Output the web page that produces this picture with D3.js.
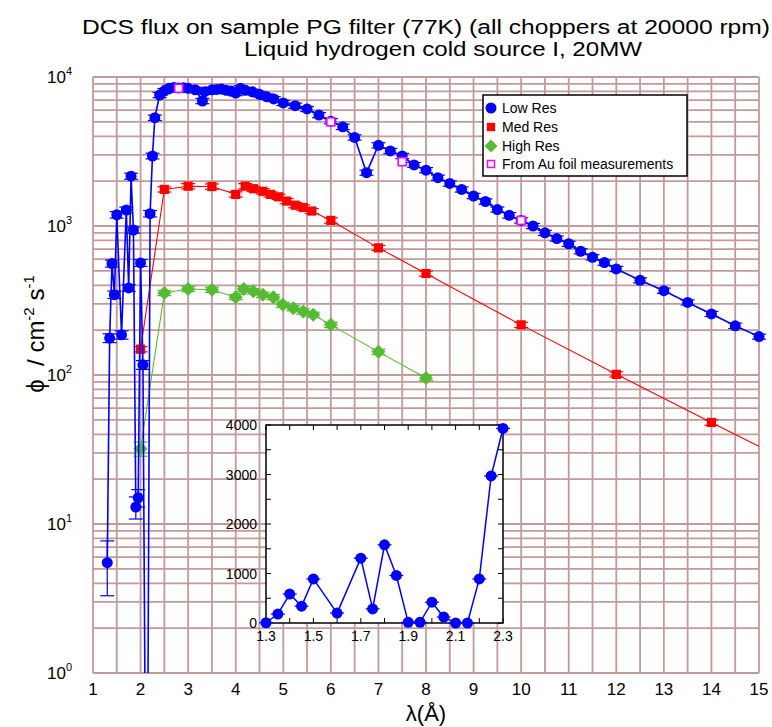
<!DOCTYPE html>
<html>
<head>
<meta charset="utf-8">
<title>DCS flux</title>
<script src="https://cdn.jsdelivr.net/npm/d3@7"></script>
<style>
  body { margin: 0; background: #fff; }
  text { font-family: 'Liberation Sans Narrow', 'Liberation Sans', Arial, sans-serif; fill: #000; }
</style>
</head>
<body>
<svg id="chart" width="772" height="727"></svg>
<script>
// ---- data ----
var lowLambda = [1.3, 1.35, 1.4, 1.45, 1.5, 1.6, 1.7, 1.75, 1.8, 1.85, 1.9, 1.95, 2.0, 2.05, 2.1, 2.15, 2.2, 2.25, 2.3,
  2.4, 2.5, 2.6, 2.7, 2.8, 2.9, 3.0, 3.15, 3.3, 3.35, 3.5, 3.6, 3.7, 3.8, 3.9, 4.0, 4.1, 4.2, 4.35, 4.5, 4.65, 4.8,
  5.0, 5.25, 5.5, 5.75, 6.0, 6.25, 6.5, 6.75, 7.0, 7.25, 7.5, 7.75, 8.0, 8.25, 8.5, 8.75, 9.0, 9.25, 9.5, 9.75,
  10.0, 10.25, 10.5, 10.75, 11.0, 11.25, 11.5, 11.75, 12.0, 12.5, 13.0, 13.5, 14.0, 14.5, 15.0];
var lowFlux = [5.5, 177, 560, 346, 1190, 186, 1280, 384, 2160, 940, 13, 15, 565, 117, 0.3, 0.3, 1210, 2950, 5330,
  7570, 8050, 8400, 8500, 8450, 8470, 8400, 8200, 6900, 7970, 8200, 8250, 8300, 8150, 8050, 7800, 8400, 8150, 7950, 7650, 7380, 7120,
  6700, 6420, 6100, 5550, 5050, 4630, 3930, 2280, 3480, 3190, 2950, 2570, 2370, 2110, 1930, 1760, 1590, 1460, 1290, 1180,
  1090, 1000, 900, 824, 760, 677, 617, 568, 515, 432, 368, 307, 257, 214, 181];
var lowErr = [2.2, 12, 30, 20, 60, 12, 60, 20, 100, 45, 2.2, 2, 30, 8, 0, 0, 60, 130, 220,
  300, 320, 330, 340, 340, 340, 330, 330, 280, 320, 330, 330, 330, 330, 320, 310, 330, 330, 320, 300, 300, 280,
  270, 260, 240, 220, 200, 190, 160, 90, 140, 130, 120, 100, 95, 85, 80, 70, 65, 60, 50, 50,
  45, 40, 36, 33, 30, 27, 25, 23, 21, 17, 15, 12, 10, 9, 7];

var medLambda = [2.0, 2.5, 3.0, 3.5, 4.0, 4.2, 4.37, 4.57, 4.73, 4.9, 5.07, 5.25, 5.42, 5.6, 6.0, 7.0, 8.0, 10.0, 12.0, 14.0, 16.0];
var medFlux = [149, 1760, 1850, 1840, 1630, 1850, 1780, 1710, 1630, 1570, 1470, 1380, 1330, 1260, 1090, 713, 480, 217, 101, 48, 23];
var medErr = [6, 70, 75, 75, 65, 75, 70, 70, 65, 65, 60, 55, 55, 50, 45, 28, 19, 9, 4, 2, 1];

var highLambda = [2.0, 2.5, 3.0, 3.5, 4.0, 4.17, 4.37, 4.57, 4.79, 4.99, 5.21, 5.42, 5.63, 6.0, 7.0, 8.0];
var highFlux = [32, 355, 378, 373, 333, 378, 365, 345, 333, 296, 281, 267, 254, 217, 143, 95.5];
var highErr = [3.5, 14, 15, 15, 13, 15, 15, 14, 13, 12, 11, 11, 10, 9, 6, 4];

var auLambda = [2.8, 6.0, 7.5, 10.0];
var auFlux = [8400, 5000, 2700, 1090];

// inset (linear zoom of the short wavelength part)
var insetLambda = [1.3, 1.35, 1.4, 1.45, 1.5, 1.6, 1.7, 1.75, 1.8, 1.85, 1.9, 1.95, 2.0, 2.05, 2.1, 2.15, 2.2, 2.25, 2.3];
var insetFlux = [5, 180, 585, 340, 890, 200, 1310, 285, 1580, 960, 13, 15, 420, 120, 0, 0, 890, 2970, 3930];

var xTicks = d3.range(1, 16);
var yDecades = [1, 10, 100, 1000, 10000];
var insetXTicks = [1.3, 1.5, 1.7, 1.9, 2.1, 2.3];
var insetYTicks = [0, 1000, 2000, 3000, 4000];

var legendLabels = ["Low Res", "Med Res", "High Res", "From Au foil measurements"];

// ---- drawing ----
var svg = d3.select("#chart");
var gridColor = "#c29a9a";
var blue = "#0000ff", red = "#ff0000", green = "#55bb33", magenta = "#ff00ff";

var x = d3.scaleLinear().domain([1, 15]).range([93, 759]);
var y = d3.scaleLog().domain([1, 10000]).range([673, 77]);

svg.append("defs").append("clipPath").attr("id", "plotclip")
  .append("rect").attr("x", 93).attr("y", 77).attr("width", 666).attr("height", 596);

// grid
var vgrid = d3.range(1, 15.01, 0.5);
var hgrid = [];
[1, 10, 100, 1000].forEach(function(d) { for (var m = 1; m < 10; m++) hgrid.push(d * m); });
hgrid.push(10000);

svg.append("g").selectAll("line").data(vgrid).enter().append("line")
  .attr("x1", function(d) { return x(d); }).attr("x2", function(d) { return x(d); })
  .attr("y1", y(1)).attr("y2", y(10000))
  .attr("stroke", gridColor).attr("stroke-width", 1.8);
svg.append("g").selectAll("line").data(hgrid).enter().append("line")
  .attr("x1", x(1)).attr("x2", x(15))
  .attr("y1", function(d) { return y(d); }).attr("y2", function(d) { return y(d); })
  .attr("stroke", gridColor).attr("stroke-width", 1.8);

// tick labels
svg.append("g").selectAll("text").data(xTicks).enter().append("text")
  .attr("x", function(d) { return x(d); }).attr("y", 695)
  .attr("text-anchor", "middle").attr("font-size", 17)
  .text(function(d) { return d; });

var yl = svg.append("g").selectAll("text").data(yDecades).enter().append("text")
  .attr("x", 72).attr("y", function(d) { return y(d) + 6; })
  .attr("text-anchor", "end").attr("font-size", 17);
yl.append("tspan").text("10");
yl.append("tspan").attr("font-size", 11).attr("dy", -8).text(function(d) { return Math.round(Math.log10(d)); });

// titles
svg.append("text").attr("x", 426).attr("y", 34).attr("text-anchor", "middle").attr("font-size", 20)
  .attr("textLength", 688).attr("lengthAdjust", "spacingAndGlyphs")
  .text("DCS flux on sample PG filter (77K) (all choppers at 20000 rpm)");
svg.append("text").attr("x", 443).attr("y", 56).attr("text-anchor", "middle").attr("font-size", 20)
  .attr("textLength", 398).attr("lengthAdjust", "spacingAndGlyphs")
  .text("Liquid hydrogen cold source I, 20MW");

svg.append("text").attr("x", 426).attr("y", 721).attr("text-anchor", "middle").attr("font-size", 22)
  .text("λ(Å)");

var ylab = svg.append("text").attr("transform", "translate(44,334) rotate(-90)")
  .attr("text-anchor", "middle").attr("font-size", 24);
ylab.append("tspan").text("\u03D5\u00A0\u00A0/\u00A0cm");
ylab.append("tspan").attr("font-size", 15).attr("dy", -10).text("-2");
ylab.append("tspan").attr("dy", 10).text("\u00A0s");
ylab.append("tspan").attr("font-size", 15).attr("dy", -10).text("-1");

// series
function toPts(lx, ly, le) {
  return lx.map(function(d, i) { return {x: d, y: ly[i], e: le ? le[i] : 0}; });
}
var lowPts = toPts(lowLambda, lowFlux, lowErr);
var medPts = toPts(medLambda, medFlux, medErr);
var highPts = toPts(highLambda, highFlux, highErr);
var auPts = toPts(auLambda, auFlux);

var line = d3.line()
  .x(function(d) { return x(d.x); })
  .y(function(d) { return y(Math.max(d.y, 0.05)); });

function drawSeries(pts, color, lw, shape) {
  var g = svg.append("g");
  g.append("path").datum(pts).attr("d", line).attr("clip-path", "url(#plotclip)")
    .attr("fill", "none").attr("stroke", color).attr("stroke-width", lw);
  var vis = pts.filter(function(d) { return d.x <= 15 && d.y >= 1; });
  // error bars
  var eb = g.selectAll(".eb").data(vis.filter(function(d) { return d.e > 0; })).enter().append("g");
  eb.append("line")
    .attr("x1", function(d) { return x(d.x); }).attr("x2", function(d) { return x(d.x); })
    .attr("y1", function(d) { return y(d.y + d.e); }).attr("y2", function(d) { return y(Math.max(d.y - d.e, 1)); })
    .attr("stroke", color).attr("stroke-width", 1.2);
  [1, -1].forEach(function(s) {
    eb.append("line")
      .attr("x1", function(d) { return x(d.x) - 7; }).attr("x2", function(d) { return x(d.x) + 7; })
      .attr("y1", function(d) { return y(Math.max(d.y + s * d.e, 1)); })
      .attr("y2", function(d) { return y(Math.max(d.y + s * d.e, 1)); })
      .attr("stroke", color).attr("stroke-width", 1.2);
  });
  g.selectAll(".pt").data(vis).enter().append("path")
    .attr("transform", function(d) { return "translate(" + x(d.x) + "," + y(d.y) + ")"; })
    .attr("d", shape)
    .attr("fill", color);
}

var circleShape = d3.symbol().type(d3.symbolCircle).size(95)();
var squareShape = d3.symbol().type(d3.symbolSquare).size(85)();
var diamondShape = "M0,-7L7,0L0,7L-7,0Z";

drawSeries(highPts, green, 1.1, diamondShape);
drawSeries(medPts, red, 1.1, squareShape);
drawSeries(lowPts, blue, 1.6, circleShape);

svg.append("g").selectAll("rect").data(auPts).enter().append("rect")
  .attr("x", function(d) { return x(d.x) - 4; }).attr("y", function(d) { return y(d.y) - 4; })
  .attr("width", 8).attr("height", 8)
  .attr("fill", "#fff").attr("stroke", magenta).attr("stroke-width", 1.6);

// legend
var lg = svg.append("g");
lg.append("rect").attr("x", 483).attr("y", 95).attr("width", 204).attr("height", 81)
  .attr("fill", "#fff").attr("stroke", "#000").attr("stroke-width", 1.5);
var rows = [108, 127, 146, 164];
var legendShapes = [circleShape, d3.symbol().type(d3.symbolSquare).size(70)(), "M0,-6.5L6.5,0L0,6.5L-6.5,0Z", null];
var legendColors = [blue, red, green, magenta];
legendLabels.forEach(function(t, i) {
  if (legendShapes[i]) {
    lg.append("path").attr("transform", "translate(491," + rows[i] + ")")
      .attr("d", legendShapes[i]).attr("fill", legendColors[i]);
  } else {
    lg.append("rect").attr("x", 487.5).attr("y", rows[i] - 3.5).attr("width", 7).attr("height", 7)
      .attr("fill", "#fff").attr("stroke", magenta).attr("stroke-width", 1.5);
  }
  lg.append("text").attr("x", 502).attr("y", rows[i] + 5).attr("font-size", 14).text(t);
});

// inset
var xi = d3.scaleLinear().domain([1.3, 2.3]).range([266, 503]);
var yi = d3.scaleLinear().domain([0, 4000]).range([623, 425]);
var ins = svg.append("g");
ins.append("rect").attr("x", 266).attr("y", 425).attr("width", 237).attr("height", 198)
  .attr("fill", "#fff").attr("stroke", "#000").attr("stroke-width", 1.5);

var ixt = d3.range(13, 24).map(function(d) { return d / 10; });
var iyt = d3.range(0, 4001, 500);
ins.append("g").selectAll("line").data(ixt).enter().append("line")
  .attr("x1", function(d) { return xi(d); }).attr("x2", function(d) { return xi(d); })
  .attr("y1", 623).attr("y2", 618).attr("stroke", "#000");
ins.append("g").selectAll("line").data(ixt).enter().append("line")
  .attr("x1", function(d) { return xi(d); }).attr("x2", function(d) { return xi(d); })
  .attr("y1", 425).attr("y2", 430).attr("stroke", "#000");
ins.append("g").selectAll("line").data(iyt).enter().append("line")
  .attr("x1", 266).attr("x2", 271)
  .attr("y1", function(d) { return yi(d); }).attr("y2", function(d) { return yi(d); }).attr("stroke", "#000");
ins.append("g").selectAll("line").data(iyt).enter().append("line")
  .attr("x1", 498).attr("x2", 503)
  .attr("y1", function(d) { return yi(d); }).attr("y2", function(d) { return yi(d); }).attr("stroke", "#000");

ins.append("g").selectAll("text").data(insetXTicks).enter().append("text")
  .attr("x", function(d) { return xi(d); }).attr("y", 641)
  .attr("text-anchor", "middle").attr("font-size", 14).text(function(d) { return d.toFixed(1); });
ins.append("g").selectAll("text").data(insetYTicks).enter().append("text")
  .attr("x", 257).attr("y", function(d) { return yi(d) + 5; })
  .attr("text-anchor", "end").attr("font-size", 14).text(function(d) { return d; });

var inPts = insetLambda.map(function(d, i) { return {x: d, y: insetFlux[i]}; });
ins.append("path").datum(inPts)
  .attr("d", d3.line().x(function(d) { return xi(d.x); }).y(function(d) { return yi(d.y); }))
  .attr("fill", "none").attr("stroke", blue).attr("stroke-width", 1.5);
ins.selectAll(".ic").data(inPts).enter().append("line")
  .attr("x1", function(d) { return xi(d.x) - 7; }).attr("x2", function(d) { return xi(d.x) + 7; })
  .attr("y1", function(d) { return yi(d.y); }).attr("y2", function(d) { return yi(d.y); })
  .attr("stroke", blue).attr("stroke-width", 1.2);
ins.selectAll(".ip").data(inPts).enter().append("path")
  .attr("transform", function(d) { return "translate(" + xi(d.x) + "," + yi(d.y) + ")"; })
  .attr("d", circleShape).attr("fill", blue);
</script>
</body>
</html>
